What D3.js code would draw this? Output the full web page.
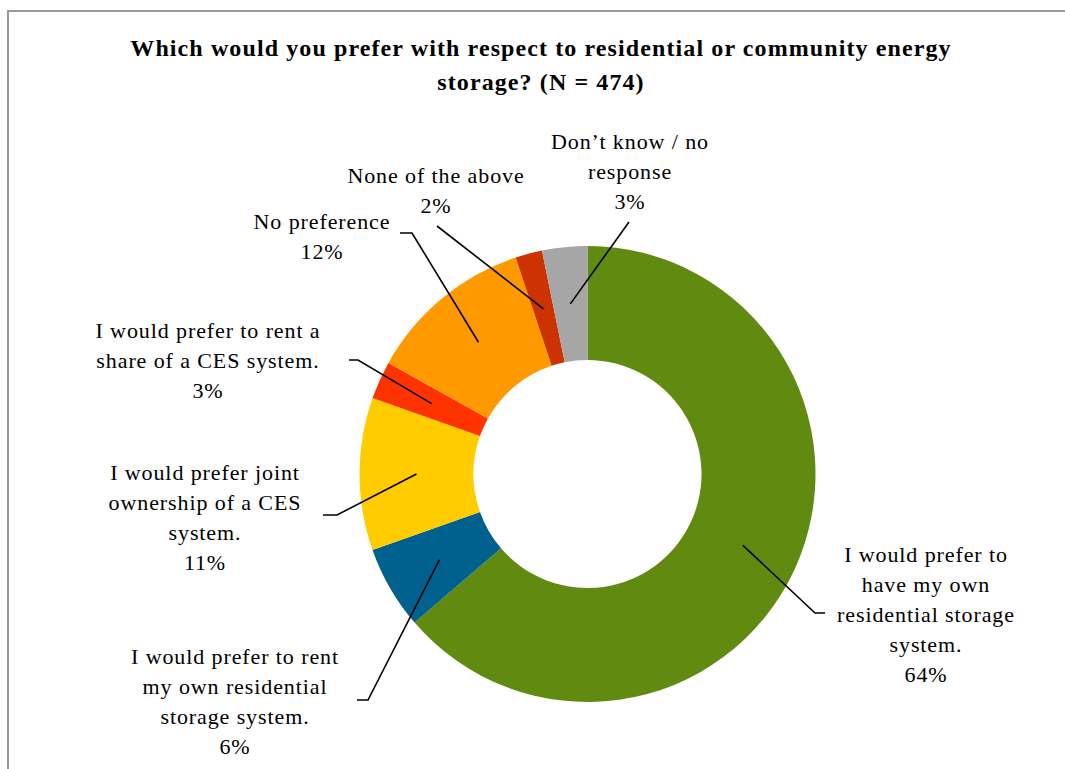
<!DOCTYPE html>
<html>
<head>
<meta charset="utf-8">
<script src="https://cdn.jsdelivr.net/npm/d3@7"></script>
<style>
  body { margin: 0; background: #fff; }
  text { font-family: "Palatino Linotype", "Book Antiqua", Palatino, "Liberation Serif", serif; fill: #000; }
</style>
</head>
<body>
<div id="chart-area"></div>
<script>

// answers, clockwise from 12 o'clock
var categories = [
  "I would prefer to have my own residential storage system.",
  "I would prefer to rent my own residential storage system.",
  "I would prefer joint ownership of a CES system.",
  "I would prefer to rent a share of a CES system.",
  "No preference",
  "None of the above",
  "Don\u2019t know / no response"
]
// share of respondents, %
var shares = [63.7, 5.9, 10.8, 2.7, 11.8, 1.9, 3.2]
var colors = ["#618A10", "#00618E", "#FFCC00", "#FF3300", "#FF9900", "#CC3300", "#A6A6A6"]

// how each label is broken into lines
var labelLines = [
  ["I would prefer to", "have my own", "residential storage", "system."],
  ["I would prefer to rent", "my own residential", "storage system."],
  ["I would prefer joint", "ownership of a CES", "system."],
  ["I would prefer to rent a", "share of a CES system."],
  ["No preference"],
  ["None of the above"],
  ["Don\u2019t know / no", "response"]
]

// label placement: text centre x, first baseline, leader line points (end then elbow)
var labelLayout = [
  { x: 926, y: 562, pts: [[825, 613], [815, 613]] },
  { x: 235, y: 664, pts: [[357, 700], [368, 700]] },
  { x: 205, y: 480, pts: [[323, 515], [337, 515]] },
  { x: 208, y: 338, pts: [[349, 360], [358, 360]] },
  { x: 322, y: 229, pts: [[400, 233], [412, 233]] },
  { x: 436, y: 183, pts: [[437, 226]] },
  { x: 630, y: 149, pts: [[629, 222]] }
]

var W = 1065, H = 769
var cx = 587.5, cy = 474
var outerR = 228, innerR = 114
var lineH = 30

var svg = d3.select("#chart-area").append("svg")
    .attr("width", W)
    .attr("height", H)

// chart frame
svg.append("path")
  .attr("d", "M8," + (H + 5) + "V11H" + (W + 5))
  .attr("fill", "none")
  .attr("stroke", "#999")
  .attr("stroke-width", 2)

var title = svg.append("text")
  .attr("x", 541)
  .attr("y", 56)
  .attr("text-anchor", "middle")
  .attr("font-size", "24px")
  .attr("font-weight", "bold")
  .attr("letter-spacing", "1.1px")
title.append("tspan").attr("x", 541).text("Which would you prefer with respect to residential or community energy")
title.append("tspan").attr("x", 541).attr("dy", 34).text("storage? (N = 474)")

var pie = d3.pie()
  .sort(null)
  .value(function(d) { return d })

var arc = d3.arc()
  .innerRadius(innerR)
  .outerRadius(outerR)

var arcs = pie(shares)

var g = svg.append("g")
  .attr("transform", "translate(" + cx + "," + cy + ")")

g.selectAll("path.slice")
  .data(arcs)
  .enter().append("path")
    .attr("class", "slice")
    .attr("d", arc)
    .attr("fill", function(d, i) { return colors[i] })

// leader lines from slice centre to label
svg.selectAll("path.leader")
  .data(arcs)
  .enter().append("path")
    .attr("class", "leader")
    .attr("fill", "none")
    .attr("stroke", "#000")
    .attr("stroke-width", 1.6)
    .attr("d", function(d, i) {
      var c = arc.centroid(d)
      var pts = labelLayout[i].pts.concat([[cx + c[0], cy + c[1]]])
      return d3.line()(pts)
    })

var labels = svg.selectAll("text.label")
  .data(arcs)
  .enter().append("text")
    .attr("class", "label")
    .attr("text-anchor", "middle")
    .attr("font-size", "22px")
    .attr("letter-spacing", "0.9px")
    .attr("x", function(d, i) { return labelLayout[i].x })
    .attr("y", function(d, i) { return labelLayout[i].y })

labels.each(function(d, i) {
  var t = d3.select(this)
  var lines = labelLines[i].concat([Math.round(shares[i]) + "%"])
  lines.forEach(function(l, j) {
    t.append("tspan")
      .attr("x", labelLayout[i].x)
      .attr("dy", j === 0 ? 0 : lineH)
      .text(l)
  })
})

</script>
</body>
</html>
